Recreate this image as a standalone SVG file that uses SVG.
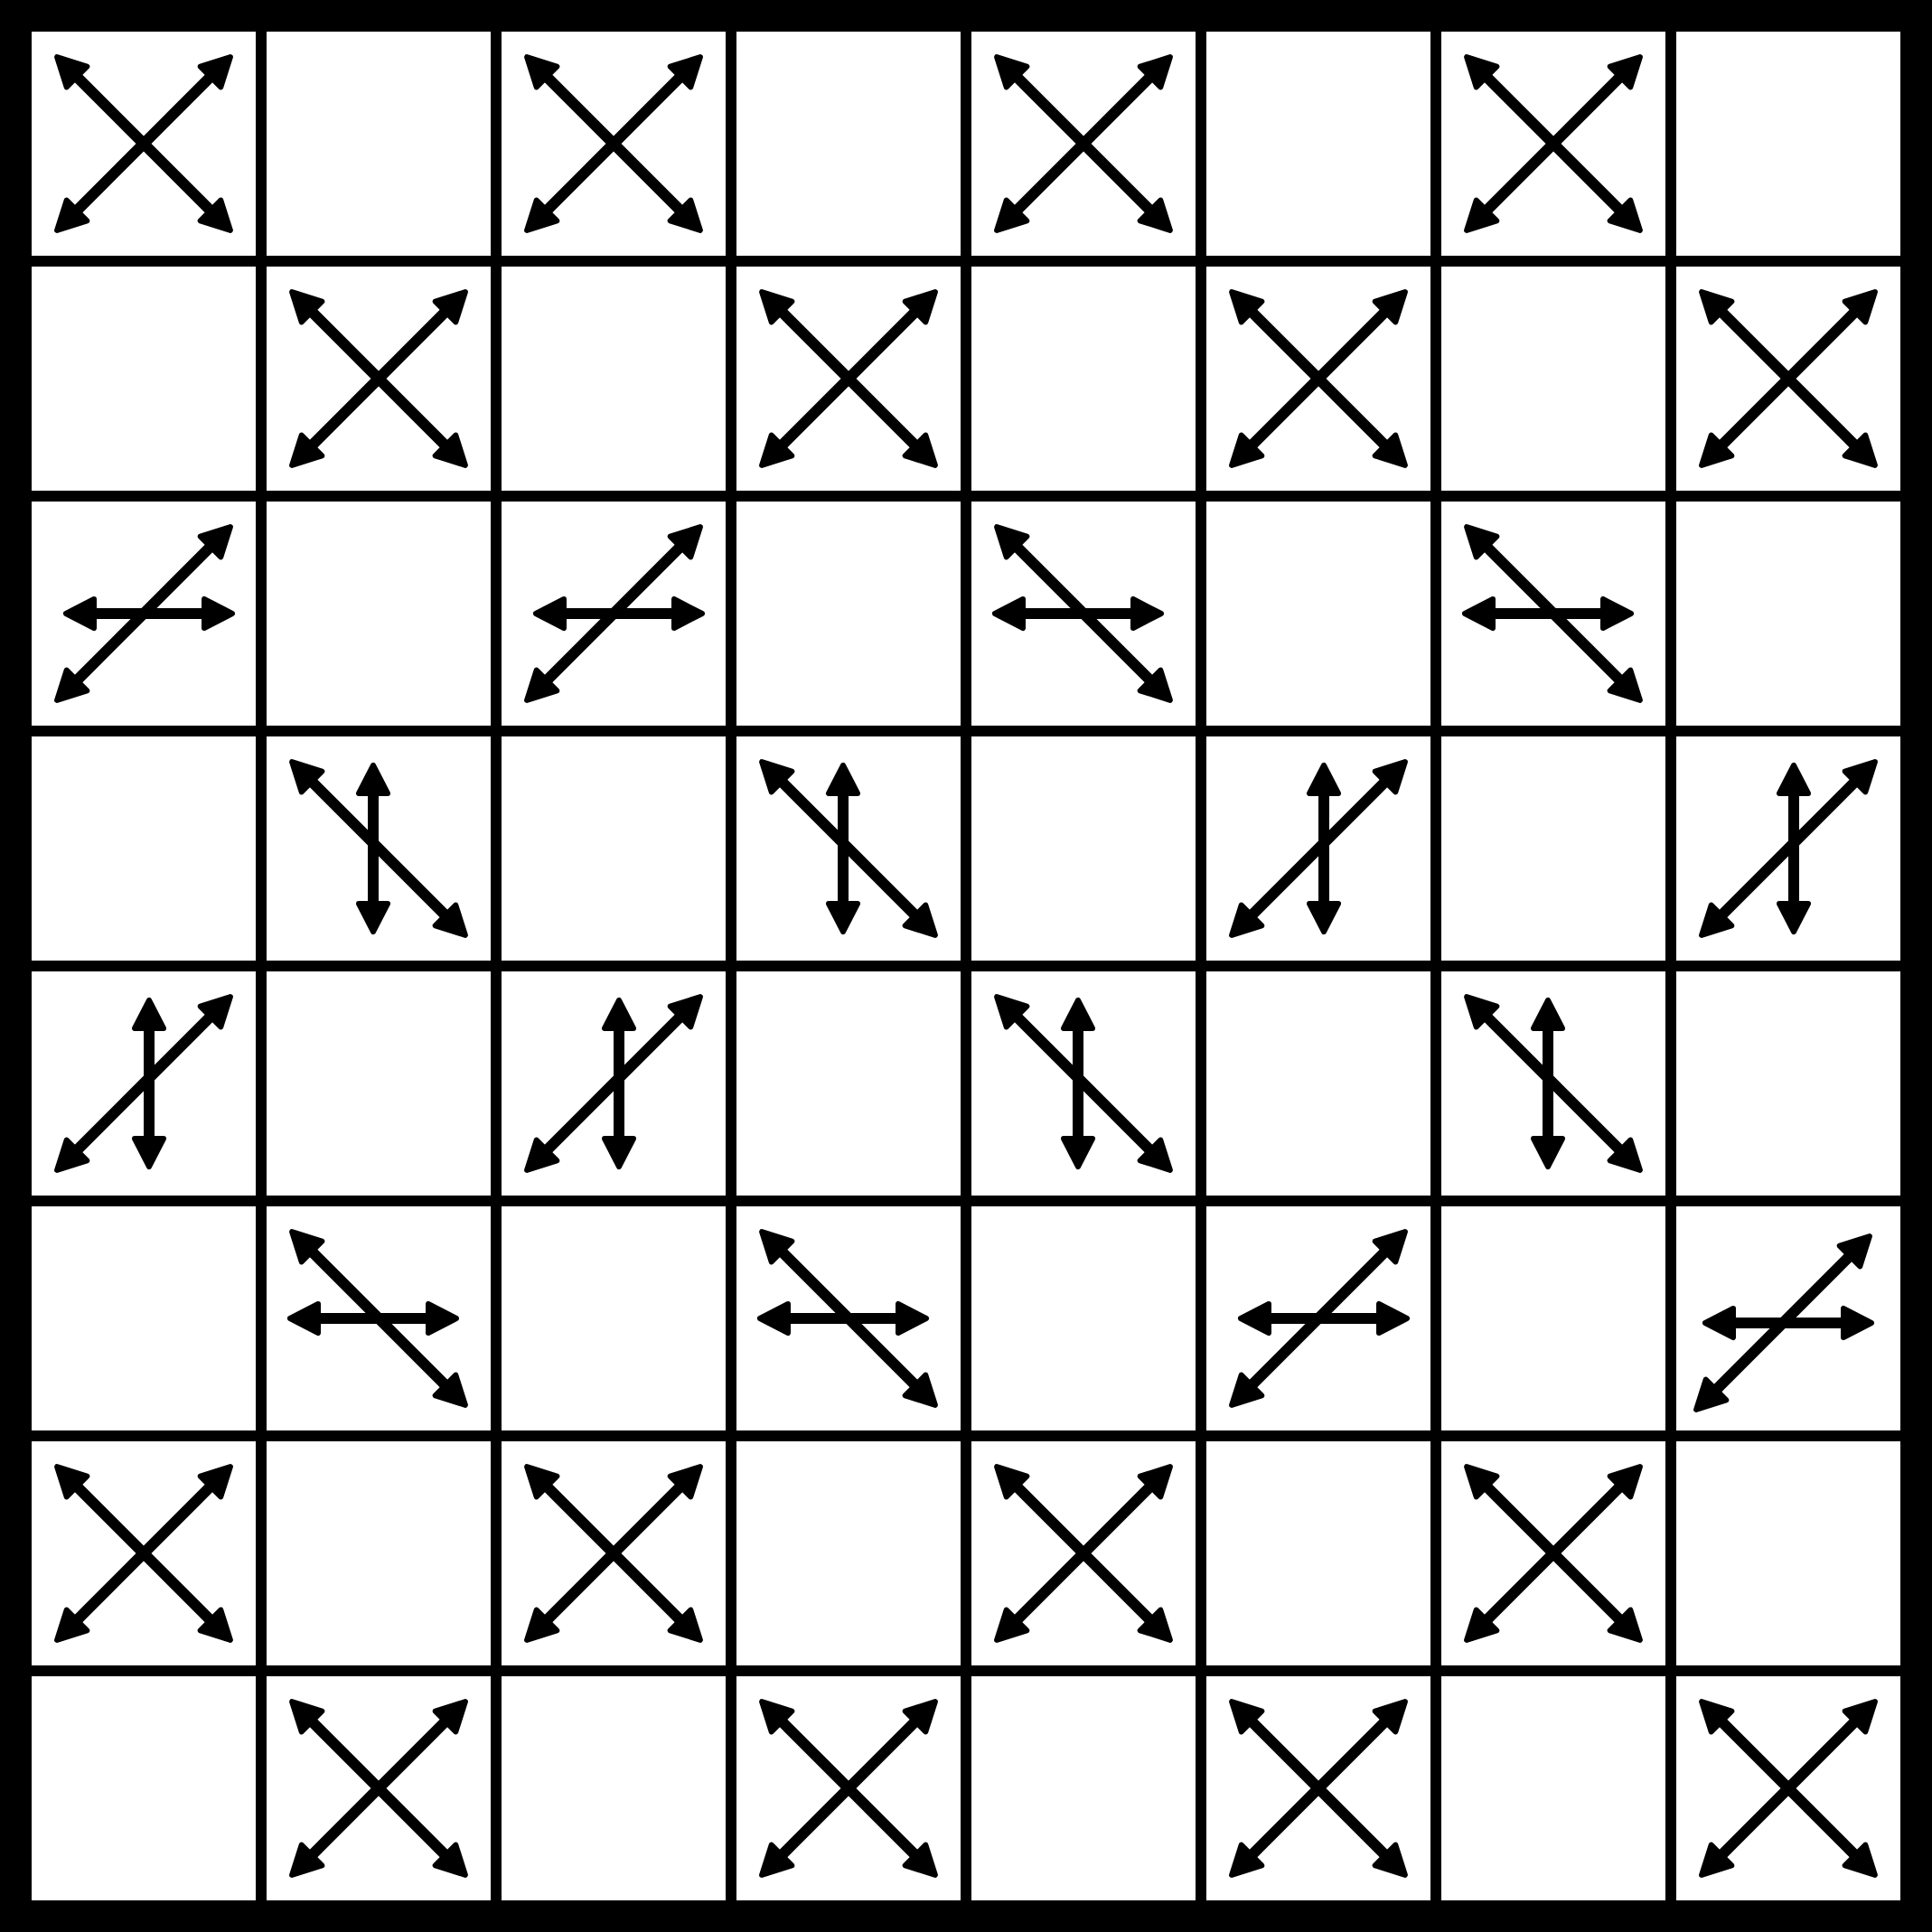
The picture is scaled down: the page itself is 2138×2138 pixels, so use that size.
<svg xmlns="http://www.w3.org/2000/svg" xmlns:xlink="http://www.w3.org/1999/xlink" width="2138" height="2138" viewBox="0 0 2138 2138">
<style>
.a{stroke:#000;stroke-width:12;fill:none;marker-start:url(#ah);marker-end:url(#ah)}
.g{stroke:#000;stroke-width:12;fill:none}
</style>
<defs>
<marker id="ah" markerUnits="userSpaceOnUse" markerWidth="80" markerHeight="60" refX="0" refY="0" orient="auto-start-reverse" overflow="visible">
<path d="M17,0 L-14,-16 L-14,16 Z" fill="#000" stroke="#000" stroke-width="6" stroke-linejoin="round"/>
</marker>
<g id="x"><path class="a" d="M-83.9,-83.9 L83.9,83.9"/><path class="a" d="M-83.9,83.9 L83.9,-83.9"/></g>
<g id="sh"><path class="a" d="M-83.9,83.9 L83.9,-83.9"/><path class="a" d="M-69,0 L81,0"/></g>
<g id="bh"><path class="a" d="M-83.9,-83.9 L83.9,83.9"/><path class="a" d="M-81,0 L69,0"/></g>
<g id="sv"><path class="a" d="M-83.9,83.9 L83.9,-83.9"/><path class="a" d="M6,-75 L6,75"/></g>
<g id="bv"><path class="a" d="M-83.9,-83.9 L83.9,83.9"/><path class="a" d="M-6,-75 L-6,75"/></g>
</defs>
<g id="board">
<rect x="0" y="0" width="2138" height="2138" fill="#000"/>
<rect x="35" y="35" width="2068" height="2068" fill="#fff"/>
<path class="g" d="M289,35V2103M549,35V2103M809,35V2103M1069,35V2103M1329,35V2103M1589,35V2103M1849,35V2103M35,289H2103M35,549H2103M35,809H2103M35,1069H2103M35,1329H2103M35,1589H2103M35,1849H2103"/>
</g>
<g id="connectors">
<g id="r0c0"><use href="#x" x="159" y="159"/></g>
<g id="r0c2"><use href="#x" x="679" y="159"/></g>
<g id="r0c4"><use href="#x" x="1199" y="159"/></g>
<g id="r0c6"><use href="#x" x="1719" y="159"/></g>
<g id="r1c1"><use href="#x" x="419" y="419"/></g>
<g id="r1c3"><use href="#x" x="939" y="419"/></g>
<g id="r1c5"><use href="#x" x="1459" y="419"/></g>
<g id="r1c7"><use href="#x" x="1979" y="419"/></g>
<g id="r2c0"><use href="#sh" x="159" y="679"/></g>
<g id="r2c2"><use href="#sh" x="679" y="679"/></g>
<g id="r2c4"><use href="#bh" x="1199" y="679"/></g>
<g id="r2c6"><use href="#bh" x="1719" y="679"/></g>
<g id="r3c1"><use href="#bv" x="419" y="939"/></g>
<g id="r3c3"><use href="#bv" x="939" y="939"/></g>
<g id="r3c5"><use href="#sv" x="1459" y="939"/></g>
<g id="r3c7"><use href="#sv" x="1979" y="939"/></g>
<g id="r4c0"><use href="#sv" x="159" y="1199"/></g>
<g id="r4c2"><use href="#sv" x="679" y="1199"/></g>
<g id="r4c4"><use href="#bv" x="1199" y="1199"/></g>
<g id="r4c6"><use href="#bv" x="1719" y="1199"/></g>
<g id="r5c1"><use href="#bh" x="419" y="1459"/></g>
<g id="r5c3"><use href="#bh" x="939" y="1459"/></g>
<g id="r5c5"><use href="#sh" x="1459" y="1459"/></g>
<g id="r5c7"><use href="#sh" x="1973" y="1464"/></g>
<g id="r6c0"><use href="#x" x="159" y="1719"/></g>
<g id="r6c2"><use href="#x" x="679" y="1719"/></g>
<g id="r6c4"><use href="#x" x="1199" y="1719"/></g>
<g id="r6c6"><use href="#x" x="1719" y="1719"/></g>
<g id="r7c1"><use href="#x" x="419" y="1979"/></g>
<g id="r7c3"><use href="#x" x="939" y="1979"/></g>
<g id="r7c5"><use href="#x" x="1459" y="1979"/></g>
<g id="r7c7"><use href="#x" x="1979" y="1979"/></g>
</g>
</svg>
